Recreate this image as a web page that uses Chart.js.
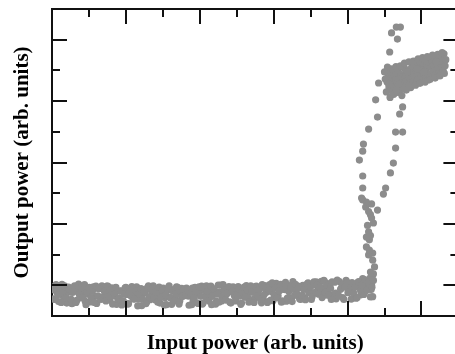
<!DOCTYPE html>
<html>
<head>
<meta charset="utf-8">
<script src="https://cdn.jsdelivr.net/npm/chart.js@4/dist/chart.umd.min.js"></script>
<style>
html,body{margin:0;padding:0;background:#fff;overflow:hidden;}
#wrap{width:462px;height:354px;}
</style>
</head>
<body>
<div id="wrap"><canvas id="c" width="462" height="354"></canvas></div>
<script>
// Axis titles
const xTitle = 'Input power (arb. units)';
const yTitle = 'Output power (arb. units)';
// Axis ranges and tick values (no labels shown)
const xRange = [0, 11];
const yRange = [0, 10];
const xTickValues = [1,2,3,4,5,6,7,8,9,10];
const yTickValues = [1,2,3,4,5,6,7,8,9];

// Low-output baseline band [input, output]
const baseline = [
[0.02,0.86],[0.07,0.54],[0.11,1.02],[0.16,0.69],[0.20,0.92],[0.25,0.44],[0.29,0.76],[0.34,0.98],[0.38,0.60],[0.43,0.82],
[0.47,0.87],[0.52,0.54],[0.56,0.77],[0.61,0.98],[0.65,0.44],[0.70,0.82],[0.74,0.70],[0.79,0.93],[0.83,0.60],[0.88,1.02],
[0.92,0.37],[0.97,0.77],[1.01,0.93],[1.06,0.60],[1.10,0.83],[1.15,0.44],[1.19,0.97],[1.24,0.66],[1.28,0.89],[1.33,0.54],
[1.37,0.62],[1.42,0.81],[1.46,0.49],[1.51,0.97],[1.55,0.64],[1.60,0.87],[1.64,0.39],[1.69,0.71],[1.73,0.93],[1.78,0.55],
[1.82,0.59],[1.87,0.82],[1.91,0.49],[1.96,0.72],[2.00,0.93],[2.05,0.39],[2.09,0.77],[2.14,0.65],[2.18,0.88],[2.23,0.55],
[2.27,0.82],[2.32,0.33],[2.36,0.73],[2.41,0.89],[2.45,0.56],[2.50,0.79],[2.54,0.40],[2.59,0.93],[2.63,0.62],[2.68,0.85],
[2.72,0.88],[2.77,0.59],[2.81,0.78],[2.86,0.46],[2.90,0.94],[2.95,0.61],[2.99,0.84],[3.04,0.36],[3.08,0.68],[3.13,0.90],
[3.17,0.98],[3.22,0.59],[3.26,0.82],[3.31,0.49],[3.35,0.72],[3.40,0.93],[3.44,0.39],[3.49,0.77],[3.53,0.65],[3.58,0.88],
[3.62,0.68],[3.67,0.84],[3.71,0.35],[3.76,0.75],[3.80,0.91],[3.85,0.58],[3.89,0.81],[3.94,0.42],[3.98,0.95],[4.03,0.64],
[4.07,0.39],[4.12,0.91],[4.16,0.62],[4.21,0.81],[4.25,0.49],[4.30,0.97],[4.34,0.64],[4.39,0.87],[4.43,0.39],[4.48,0.71],
[4.52,0.45],[4.57,1.01],[4.61,0.62],[4.66,0.85],[4.70,0.52],[4.75,0.75],[4.79,0.96],[4.84,0.42],[4.88,0.80],[4.93,0.68],
[4.97,0.49],[5.02,0.71],[5.06,0.87],[5.11,0.38],[5.15,0.78],[5.20,0.94],[5.24,0.61],[5.29,0.84],[5.33,0.45],[5.38,0.98],
[5.42,0.78],[5.47,0.44],[5.51,0.96],[5.56,0.67],[5.60,0.86],[5.65,0.54],[5.69,1.02],[5.74,0.69],[5.78,0.92],[5.83,0.44],
[5.87,0.85],[5.92,0.52],[5.96,1.08],[6.01,0.69],[6.05,0.92],[6.10,0.59],[6.14,0.82],[6.19,1.03],[6.23,0.49],[6.28,0.87],
[6.32,1.10],[6.37,0.58],[6.41,0.80],[6.46,0.96],[6.50,0.47],[6.55,0.87],[6.59,1.03],[6.64,0.70],[6.68,0.93],[6.73,0.54],
[6.77,0.67],[6.82,0.87],[6.86,0.53],[6.91,1.05],[6.95,0.76],[7.00,0.95],[7.04,0.63],[7.09,1.11],[7.13,0.78],[7.18,1.01],
[7.22,0.71],[7.27,0.93],[7.31,0.60],[7.36,1.16],[7.40,0.77],[7.45,1.00],[7.49,0.67],[7.54,0.90],[7.58,1.11],[7.63,0.57],
[7.67,0.75],[7.72,1.17],[7.76,0.65],[7.81,0.87],[7.85,1.03],[7.90,0.54],[7.94,0.94],[7.99,1.10],[8.03,0.77],[8.08,1.00],
[8.12,1.09],[8.17,0.74],[8.21,0.94],[8.26,0.60],[8.30,1.12],[8.35,0.83],[8.39,1.02],[8.44,0.70],[8.48,1.18],[8.53,0.85],
[8.57,1.10],[8.62,0.62],[8.66,0.94],[8.70,1.16]
];

// Second sweep of the baseline band
const baseline2 = [
[0.04,0.56],[0.09,0.99],[0.13,0.77],[0.18,0.47],[0.22,0.88],[0.27,1.03],[0.31,0.63],[0.36,0.80],[0.40,0.42],[0.45,0.94],
[0.49,0.78],[0.54,0.40],[0.58,0.92],[0.63,0.81],[0.67,0.51],[0.72,1.04],[0.76,0.59],[0.81,0.73],[0.85,0.89],[0.90,0.48],
[0.94,0.71],[0.99,0.87],[1.03,0.46],[1.08,0.81],[1.12,0.95],[1.17,0.64],[1.21,0.41],[1.26,0.89],[1.30,0.61],[1.35,0.98],
[1.39,0.88],[1.44,0.60],[1.48,0.97],[1.53,0.73],[1.57,0.52],[1.62,0.92],[1.66,0.66],[1.71,0.83],[1.75,0.38],[1.80,0.51],
[1.84,0.81],[1.89,0.36],[1.93,0.49],[1.98,0.92],[2.02,0.70],[2.07,0.40],[2.11,0.81],[2.16,0.96],[2.20,0.56],[2.25,0.73],
[2.29,0.95],[2.34,0.55],[2.38,0.72],[2.43,0.34],[2.47,0.86],[2.52,0.75],[2.56,0.45],[2.61,0.98],[2.65,0.53],[2.70,0.67],
[2.74,0.98],[2.79,0.53],[2.83,0.67],[2.88,0.83],[2.92,0.42],[2.97,0.77],[3.01,0.91],[3.06,0.60],[3.10,0.37],[3.15,0.85],
[3.19,0.61],[3.24,0.38],[3.28,0.86],[3.33,0.58],[3.37,0.95],[3.42,0.71],[3.46,0.50],[3.51,0.90],[3.55,0.64],[3.60,0.81],
[3.64,0.91],[3.69,0.65],[3.73,0.82],[3.78,0.37],[3.82,0.50],[3.87,0.93],[3.91,0.71],[3.96,0.41],[4.00,0.82],[4.05,0.97],
[4.09,0.42],[4.14,0.83],[4.18,0.98],[4.23,0.58],[4.27,0.75],[4.32,0.37],[4.36,0.89],[4.41,0.78],[4.45,0.48],[4.50,1.01],
[4.54,0.79],[4.59,0.49],[4.63,1.02],[4.68,0.57],[4.72,0.71],[4.77,0.87],[4.81,0.46],[4.86,0.81],[4.90,0.95],[4.95,0.64],
[4.99,0.82],[5.04,0.96],[5.08,0.65],[5.13,0.42],[5.17,0.90],[5.22,0.62],[5.26,0.99],[5.31,0.75],[5.35,0.54],[5.40,0.94],
[5.44,0.78],[5.49,0.57],[5.53,0.97],[5.58,0.71],[5.62,0.88],[5.67,0.43],[5.71,0.56],[5.76,0.99],[5.80,0.77],[5.85,0.47],
[5.89,1.02],[5.94,0.80],[5.98,0.50],[6.03,0.91],[6.07,1.06],[6.12,0.66],[6.16,0.83],[6.21,0.45],[6.25,0.97],[6.30,0.86],
[6.34,0.48],[6.39,1.00],[6.43,0.89],[6.48,0.59],[6.52,1.12],[6.57,0.67],[6.61,0.81],[6.66,0.97],[6.70,0.56],[6.75,0.91],
[6.79,1.00],[6.84,0.59],[6.88,0.94],[6.93,1.08],[6.97,0.77],[7.02,0.54],[7.06,1.02],[7.11,0.74],[7.15,1.11],[7.20,0.87],
[7.24,0.76],[7.29,1.13],[7.33,0.89],[7.38,0.68],[7.42,1.08],[7.47,0.82],[7.51,0.99],[7.56,0.54],[7.60,0.67],[7.65,1.10],
[7.69,0.56],[7.74,0.69],[7.78,1.12],[7.83,0.90],[7.87,0.60],[7.92,1.01],[7.96,1.16],[8.01,0.76],[8.05,0.93],[8.10,0.55],
[8.14,0.79],[8.19,0.96],[8.23,0.58],[8.28,1.10],[8.32,0.99],[8.37,0.69],[8.41,1.22],[8.46,0.77],[8.50,0.91],[8.55,1.07],
[8.59,1.17],[8.64,0.86],[8.68,0.63]
];

// Rising (switch-on) branch
const riseBranch = [
[8.65,1.01],[8.68,1.17],[8.70,1.37],[8.62,1.43],[8.62,1.25],[8.73,1.60],[8.68,1.82],[8.57,1.99],[8.68,2.05],[8.59,2.15],[8.51,2.25],
[8.59,2.48],[8.51,2.57],[8.62,2.62],[8.57,2.74],[8.54,2.95],[8.70,3.03],[8.65,3.19],[8.62,3.30],[8.57,3.40],[8.81,3.45],[8.65,3.65],[8.49,3.55],
[8.51,3.71],[8.41,3.78],[8.38,3.84],[8.41,4.17],[8.41,4.56],[8.32,5.08],[8.41,5.37],[8.43,5.60],
[8.57,6.09],[8.81,6.48],[8.76,7.04],[8.84,7.59],[9.00,7.95],[9.08,8.11],[9.14,8.60],[9.19,9.22],
[9.35,9.02],[9.32,9.41],[9.43,9.41]
];

// Returning branch
const fallBranch = [
[8.97,3.97],[9.03,4.17],[9.16,4.66],[9.24,4.98],[9.30,5.47],[9.30,5.99],[9.49,5.99],[9.41,6.58],
[9.49,6.81],[9.32,7.36]
];

// High-output plateau cluster
const plateau = [
[9.05,7.30],[9.07,7.62],[9.10,7.84],[9.12,7.46],[9.14,7.68],[9.17,7.35],[9.19,7.91],[9.21,7.52],[9.23,7.75],[9.26,7.42],
[9.28,7.81],[9.30,7.69],[9.33,7.92],[9.35,7.59],[9.37,8.01],[9.40,7.49],[9.42,7.71],[9.44,7.87],[9.46,7.38],[9.49,7.78],
[9.51,7.55],[9.53,8.08],[9.56,7.77],[9.58,8.00],[9.60,7.65],[9.63,7.85],[9.65,7.51],[9.67,8.03],[9.69,7.74],[9.72,7.93],
[9.74,8.10],[9.76,7.62],[9.79,7.94],[9.81,8.16],[9.83,7.78],[9.86,8.00],[9.88,7.67],[9.90,8.23],[9.92,7.84],[9.95,8.07],
[9.97,7.74],[9.99,8.12],[10.02,8.00],[10.04,8.23],[10.06,7.90],[10.09,8.32],[10.11,7.80],[10.13,8.02],[10.15,8.18],[10.18,7.69],
[10.20,8.26],[10.22,7.87],[10.25,8.40],[10.27,8.09],[10.29,8.32],[10.32,7.97],[10.34,8.17],[10.36,7.83],[10.38,8.35],[10.41,8.06],
[10.43,8.18],[10.45,8.41],[10.48,7.93],[10.50,8.25],[10.52,8.47],[10.55,8.09],[10.57,8.31],[10.59,7.98],[10.61,8.54],[10.64,8.15],
[9.02,7.72],[9.09,8.02],[9.15,7.12],[9.20,8.05],[9.25,7.22],[9.31,8.12],[9.36,7.28],[9.43,8.15],[9.47,7.18],[9.54,8.24],
[9.59,7.36],[9.66,8.28],[9.71,7.44],[9.78,8.30],[9.84,7.52],[9.91,8.38],[9.96,7.58],[10.03,8.42],[10.10,7.62],[10.16,8.45],
[10.23,7.70],[10.30,8.50],[10.37,7.75],[10.44,8.52],[10.50,7.82],[10.56,8.58],[10.62,7.90],[10.66,8.35],[9.62,7.95],[9.88,8.05],
[10.08,7.95],[10.40,8.28],[9.38,7.55],[9.12,7.55]
];

const toPts = arr => arr.map(p => ({x: p[0], y: p[1]}));
const dotColor = 'rgb(140,140,140)';

const innerTicks = {
  id: 'innerTicks',
  afterDraw(chart) {
    const ctx = chart.ctx, a = chart.chartArea;
    const xs = chart.scales.x, ys = chart.scales.y;
    ctx.save();
    ctx.strokeStyle = '#111';
    ctx.lineWidth = 2;
    ctx.beginPath();
    xTickValues.forEach(v => {
      const px = Math.round(xs.getPixelForValue(v));
      const len = (v % 2 === 0) ? 15 : 8;
      ctx.moveTo(px, a.bottom); ctx.lineTo(px, a.bottom - len);
      ctx.moveTo(px, a.top); ctx.lineTo(px, a.top + len);
    });
    yTickValues.forEach(v => {
      const py = Math.round(ys.getPixelForValue(v));
      const len = (v % 2 === 1) ? 15 : 8;
      ctx.moveTo(a.left, py); ctx.lineTo(a.left + len, py);
      ctx.moveTo(a.right, py); ctx.lineTo(a.right - len, py);
    });
    ctx.stroke();
    ctx.restore();
  }
};

const titleFont = {family: "'Liberation Serif','Times New Roman',serif", weight: 'bold', size: 21, lineHeight: 1};

new Chart(document.getElementById('c'), {
  type: 'scatter',
  data: {
    datasets: [
      {data: toPts(baseline)},
      {data: toPts(baseline2)},
      {data: toPts(riseBranch)},
      {data: toPts(fallBranch)},
      {data: toPts(plateau)}
    ].map(d => Object.assign(d, {backgroundColor: dotColor, borderWidth: 0, pointRadius: 3.6, pointHoverRadius: 3.6}))
  },
  options: {
    responsive: false,
    animation: false,
    devicePixelRatio: 1,
    layout: {padding: {left: 0, right: 3, top: 0, bottom: 0}},
    plugins: {legend: {display: false}, tooltip: {enabled: false}},
    scales: {
      x: {
        type: 'linear', position: 'bottom', min: xRange[0], max: xRange[1],
        ticks: {display: false},
        grid: {display: false, drawTicks: false},
        border: {display: true, color: '#111', width: 2},
        title: {display: true, text: xTitle, color: '#000', font: titleFont, padding: {top: 0.5, bottom: 0}},
        afterFit(s) { s.height = 38; }
      },
      x2: {
        type: 'linear', position: 'top', min: xRange[0], max: xRange[1],
        ticks: {display: false},
        grid: {display: false, drawTicks: false},
        border: {display: true, color: '#111', width: 2},
        afterFit(s) { s.height = 9; }
      },
      y: {
        type: 'linear', position: 'left', min: yRange[0], max: yRange[1],
        ticks: {display: false},
        grid: {display: false, drawTicks: false},
        border: {display: true, color: '#111', width: 2},
        title: {display: true, text: yTitle, color: '#000', font: titleFont, padding: {top: 12.5, bottom: 0}},
        afterFit(s) { s.width = 52; }
      }
    }
  },
  plugins: [innerTicks]
});
</script>
</body>
</html>
